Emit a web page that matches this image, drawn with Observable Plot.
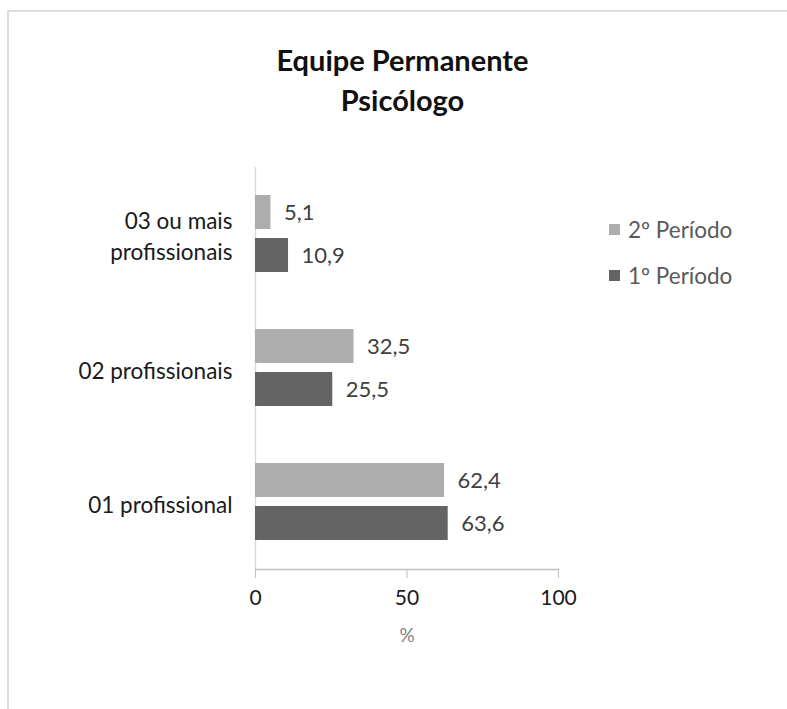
<!DOCTYPE html>
<html>
<head>
<meta charset="utf-8">
<script src="https://cdn.jsdelivr.net/npm/d3@7"></script>
<script src="https://cdn.jsdelivr.net/npm/@observablehq/plot@0.6"></script>
<style>
  html, body { margin: 0; padding: 0; background: #fff; }
  #wrap { position: relative; width: 787px; height: 709px; overflow: hidden; font-family: Lato, "Liberation Sans", sans-serif; }
  #border { position: absolute; left: 7px; top: 10px; width: 800px; height: 720px; border-top: 2px solid #dcdcdc; border-left: 2px solid #dcdcdc; box-sizing: border-box; }
  #title { position: relative; height: 140px; box-sizing: border-box; padding-top: 40px; text-align: center; font-weight: bold; font-size: 29px; line-height: 40px; color: #111; padding-left: 18px; }
  #legend { position: absolute; left: 609px; top: 215px; font-size: 22.5px; color: #595959; }
  .li { display: flex; align-items: center; height: 28px; margin-bottom: 18px; }
  .sw { width: 11px; height: 11px; margin-right: 8px; }
</style>
</head>
<body>
<div id="wrap">
  <div id="border"></div>
  <div id="title">Equipe Permanente<br>Psicólogo</div>
  <div id="chart"></div>
  <div id="legend"></div>
</div>
<script>
const categories = ["03 ou mais profissionais", "02 profissionais", "01 profissional"];
const categoryLines = ["03 ou mais\nprofissionais", "02 profissionais", "01 profissional"];
const periods = ["2º Período", "1º Período"];
const periodColors = ["#adadad", "#646464"];
const values2 = [5.1, 32.5, 62.4];
const values1 = [10.9, 25.5, 63.6];
const xTicks = [0, 50, 100];
const xLabel = "%";

const data = [];
categories.forEach((c, i) => {
  data.push({category: c, period: periods[0], value: values2[i]});
  data.push({category: c, period: periods[1], value: values1[i]});
});

const fmt = v => v.toLocaleString("pt-BR", {minimumFractionDigits: 1, maximumFractionDigits: 1});

const chart = Plot.plot({
  width: 787,
  height: 569,
  marginLeft: 255,
  marginRight: 229,
  marginTop: 27,
  marginBottom: 140,
  style: {fontFamily: "Lato, 'Liberation Sans', sans-serif", background: "transparent"},
  x: {domain: [0, 100]},
  fy: {domain: categories, padding: 0},
  y: {domain: periods, paddingInner: 0.209, paddingOuter: 0.66, axis: null},
  color: {domain: periods, range: periodColors},
  marks: [
    Plot.ruleX([0], {stroke: "#d9d9d9", strokeWidth: 1.5}),
    Plot.barX(data, {fy: "category", y: "period", x: "value", fill: "period"}),
    Plot.text(data, {fy: "category", y: "period", x: "value", text: d => fmt(d.value), dx: 13, textAnchor: "start", fill: "#404040", fontSize: 22}),
    Plot.frame({anchor: "bottom", facetAnchor: "bottom", stroke: "#bfbfbf", strokeWidth: 1.5}),
    Plot.axisX({ticks: xTicks, tickFormat: d => String(d), tickSize: 9, tickPadding: 12, stroke: "#bfbfbf", fill: "#1a1a1a", fontSize: 21, label: null}),
    Plot.text([xLabel], {text: d => d, frameAnchor: "bottom", facetAnchor: "bottom", dy: 72, fill: "#7f7f7f", fontSize: 19}),
    Plot.axisFy({anchor: "left", tickSize: 0, tickPadding: 23, fontSize: 22.5, fill: "#1a1a1a", label: null, lineHeight: 1.4,
      tickFormat: d => categoryLines[categories.indexOf(d)]})
  ]
});
document.getElementById("chart").appendChild(chart);

const legend = document.getElementById("legend");
periods.forEach((p, i) => {
  const row = document.createElement("div");
  row.className = "li";
  const sw = document.createElement("div");
  sw.className = "sw";
  sw.style.background = periodColors[i];
  const t = document.createElement("span");
  t.textContent = p;
  row.appendChild(sw);
  row.appendChild(t);
  legend.appendChild(row);
});
</script>
</body>
</html>
